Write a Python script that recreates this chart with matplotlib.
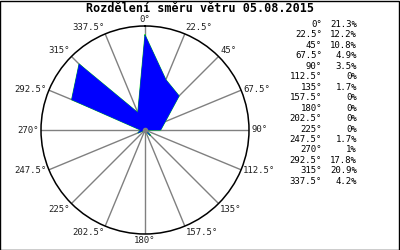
import matplotlib
matplotlib.use('Agg')
import matplotlib.pyplot as plt
import numpy as np
from matplotlib.patches import Rectangle

title = 'Rozdělení směru větru 05.08.2015'
angles = [0, 22.5, 45, 67.5, 90, 112.5, 135, 157.5, 180, 202.5, 225, 247.5, 270, 292.5, 315, 337.5]
values = [21.3, 12.2, 10.8, 4.9, 3.5, 0, 1.7, 0, 0, 0, 0, 1.7, 1, 17.8, 20.9, 4.2]

rmax = max(values) * 1.095
font = 'DejaVu Sans Mono'

fig = plt.figure(figsize=(4, 2.5), dpi=100)
ax = fig.add_axes([0.1025, 0.064, 0.52, 0.832], projection='polar')
ax.set_theta_zero_location('N')
ax.set_theta_direction(-1)
ax.set_ylim(0, rmax)
ax.set_thetagrids(angles, labels=[])
ax.set_yticks([])
ax.xaxis.grid(True, color='#808080', linewidth=1)
ax.yaxis.grid(False)
ax.spines['polar'].set_color('black')
ax.spines['polar'].set_linewidth(1.1)

th = np.deg2rad(angles + angles[:1])
r = values + values[:1]
ax.plot(th, r, color='#00e000', linewidth=0.8, zorder=3)
ax.fill(th, r, facecolor='#0000ff', edgecolor='#0000ff', linewidth=0.3, zorder=4)
ax.plot([0], [0], 'o', color='#808080', markersize=3, zorder=5)

for a in angles:
    s = np.sin(np.deg2rad(a))
    c = np.cos(np.deg2rad(a))
    ha = 'left' if s > 0.01 else ('right' if s < -0.01 else 'center')
    if c > 0.5:
        va = 'bottom'
    elif c < -0.5:
        va = 'top'
    else:
        va = 'center'
    ax.text(np.deg2rad(a), rmax * 1.02, '%g°' % a, ha=ha, va=va,
            family=font, fontsize=6.5, color='#202020', clip_on=False)

fig.text(0.5, 1 - 9 / 250, title, ha='center', va='center',
         family=font, fontsize=8.5, fontweight='bold')

for i, (a, v) in enumerate(zip(angles, values)):
    y = 1 - (24.5 + i * 10.45) / 250
    fig.text(322 / 400, y, '%g°' % a, ha='right', va='center', family=font, fontsize=6.5)
    fig.text(357 / 400, y, '%g%%' % v, ha='right', va='center', family=font, fontsize=6.5)

fig.patches.append(Rectangle((0.001, 0.002), 0.997, 0.996, transform=fig.transFigure,
                             fill=False, edgecolor='black', linewidth=1))

fig.savefig('out.png', dpi=100)
